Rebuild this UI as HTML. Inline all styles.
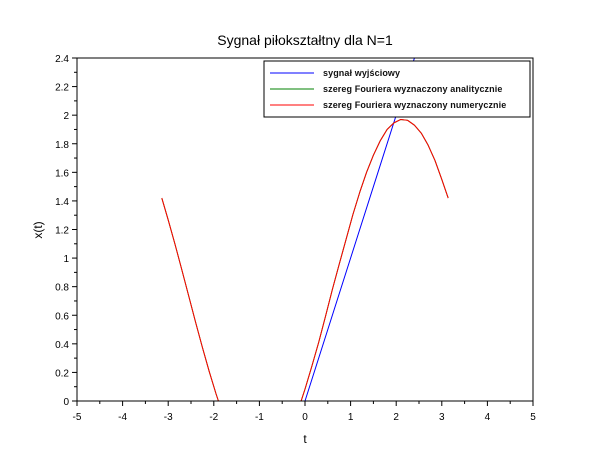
<!DOCTYPE html>
<html><head><meta charset="utf-8"><style>
body{margin:0;background:#fff;}
text{font-family:"Liberation Sans",sans-serif;}
</style></head><body>
<svg id="chart" width="610" height="460" xmlns="http://www.w3.org/2000/svg">
<rect width="610" height="460" fill="#fff"/>
<text x="305" y="45" font-size="14" text-anchor="middle">Sygnał piłokształtny dla N=1</text>
<defs><clipPath id="clip"><rect x="77" y="58" width="456" height="343"/></clipPath></defs>
<g id="series" clip-path="url(#clip)"></g>
<rect x="77" y="58" width="456" height="343" fill="none" stroke="#000" stroke-width="1"/>
<g id="axes"></g>
<text x="305" y="443" font-size="12" text-anchor="middle">t</text>
<text x="42" y="230" font-size="12" text-anchor="middle" transform="rotate(-90 42 230)">x(t)</text>
<g>
<rect x="264" y="61" width="266" height="56" fill="#fff" stroke="#000" stroke-width="1"/>
<line x1="270" y1="73" x2="314" y2="73" stroke="#00f"/>
<text x="323" y="76" font-size="9" font-weight="bold" letter-spacing="0.1" fill="#111">sygnał wyjściowy</text>
<line x1="270" y1="89" x2="314" y2="89" stroke="#008000"/>
<text x="323" y="92" font-size="9" font-weight="bold" letter-spacing="0.1" fill="#111">szereg Fouriera wyznaczony analitycznie</text>
<line x1="270" y1="105" x2="314" y2="105" stroke="#f00"/>
<text x="323" y="108" font-size="9" font-weight="bold" letter-spacing="0.1" fill="#111">szereg Fouriera wyznaczony numerycznie</text>
</g>
</svg>
<script>
const xTicks=[-5,-4,-3,-2,-1,0,1,2,3,4,5];
const yTicks=[0,0.2,0.4,0.6,0.8,1,1.2,1.4,1.6,1.8,2,2.2,2.4];
const yTickLabels=["0","0.2","0.4","0.6","0.8","1","1.2","1.4","1.6","1.8","2","2.2","2.4"];
const signalT=[-3.14,0,3.14];
const signalY=[0,0,3.14];
const fourierT=[-3.14,-3.0,-2.85,-2.7,-2.55,-2.4,-2.25,-2.1,-1.95,-1.8,-1.0,-0.3,-0.15,0,0.15,0.3,0.45,0.6,0.75,0.9,1.05,1.2,1.35,1.5,1.65,1.8,1.95,2.1,2.25,2.4,2.55,2.7,2.85,3.0,3.14];
const analyticY=[1.42,1.267,1.096,0.917,0.735,0.552,0.375,0.206,0.049,-0.094,-0.47,-0.19,-0.063,0.083,0.243,0.41,0.593,0.78,0.957,1.13,1.304,1.46,1.60,1.72,1.821,1.90,1.946,1.97,1.964,1.93,1.874,1.79,1.683,1.55,1.42];
const numericY=[1.42,1.267,1.096,0.917,0.735,0.552,0.375,0.206,0.049,-0.094,-0.47,-0.19,-0.063,0.083,0.243,0.41,0.593,0.78,0.957,1.13,1.304,1.46,1.60,1.72,1.821,1.90,1.946,1.97,1.964,1.93,1.874,1.79,1.683,1.55,1.42];
const NS="http://www.w3.org/2000/svg";
const sx=t=>77+(t+5)*45.6;
const sy=v=>401-v/2.4*343;
const axes=document.getElementById('axes');
function mk(tag,attrs,parent){const e=document.createElementNS(NS,tag);for(const k in attrs)e.setAttribute(k,attrs[k]);parent.appendChild(e);return e;}
xTicks.forEach((t,i)=>{
 const l=mk('line',{x1:sx(t),x2:sx(t),y1:401,y2:406,stroke:'#000'},axes);
 
 
 const tx=mk('text',{x:sx(t),y:420,'font-size':10,'text-anchor':'middle'},axes);
 tx.textContent=String(t);
 
 
 if(i<xTicks.length-1){const m=mk('line',{x1:sx(t+0.5),x2:sx(t+0.5),y1:401,y2:404,stroke:'#000'},axes);
 
 }
});
yTicks.forEach((v,i)=>{
 const l=mk('line',{x1:72,x2:77,y1:sy(v),y2:sy(v),stroke:'#000'},axes);
 
 
 const tx=mk('text',{x:69,y:sy(v)+4,'font-size':10,'text-anchor':'end'},axes);
 tx.textContent=yTickLabels[i];
 
 
 if(i<yTicks.length-1){const m=mk('line',{x1:74,x2:77,y1:sy(v+0.1),y2:sy(v+0.1),stroke:'#000'},axes);
 
 }
});
const series=document.getElementById('series');
function line(ts,ys,color,name){
 const p=mk('polyline',{points:ts.map((t,i)=>sx(t)+','+sy(ys[i])).join(' '),fill:'none',stroke:color,'stroke-width':1,'stroke-linejoin':'round'},series);
 
 
}
line(signalT,signalY,'#00f','signal-line');
line(fourierT,analyticY,'#008000','analytic-fourier-line');
line(fourierT,numericY,'#f00','numeric-fourier-line');
</script>
</body></html>
